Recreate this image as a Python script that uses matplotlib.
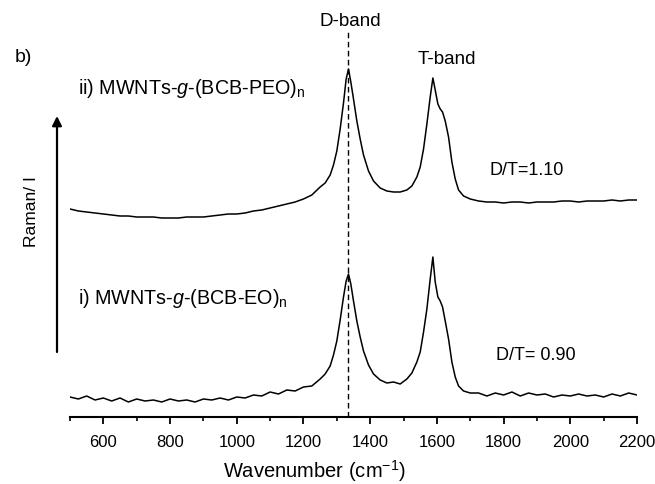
import numpy as np
import matplotlib
matplotlib.use("Agg")
import matplotlib.pyplot as plt

plt.rcParams['font.family'] = ['Liberation Sans', 'DejaVu Sans']
plt.rcParams['mathtext.fontset'] = 'custom'
plt.rcParams['mathtext.rm'] = 'Liberation Sans'
plt.rcParams['mathtext.it'] = 'Liberation Sans:italic'

# wavenumber grid (cm-1)
wn = [500, 525, 550, 575, 600, 625, 650, 675, 700, 725, 750, 775, 800, 825, 850,
      875, 900, 925, 950, 975, 1000, 1025, 1050, 1075, 1100, 1125, 1150, 1175,
      1200, 1225, 1250,
      1265, 1280, 1290, 1300, 1310, 1320, 1328, 1335, 1342, 1350, 1360, 1370,
      1380, 1395, 1410, 1430, 1450, 1470, 1490, 1510, 1525, 1540, 1550, 1560,
      1570, 1580, 1588, 1595, 1603, 1610, 1617, 1625, 1635, 1645, 1655, 1665,
      1680, 1700,
      1725, 1750, 1775, 1800, 1825, 1850, 1875, 1900, 1925, 1950, 1975, 2000,
      2025, 2050, 2075, 2100, 2125, 2150, 2175, 2200]

# ii) MWNTs-g-(BCB-PEO)n  (offset trace, arbitrary units)
peo = [208, 206, 205, 204, 203, 202, 201, 201, 200, 200, 200, 199, 199, 199, 200,
       200, 200, 201, 202, 203, 203, 204, 206, 207, 209, 211, 213, 215,
       218, 222, 230,
       234, 242, 252, 266, 288, 314, 338, 348, 335, 318, 296, 278,
       262, 246, 236, 229, 226, 225, 225, 227, 231, 240, 250, 268,
       293, 320, 339, 327, 313, 308, 305, 296, 280, 255, 238, 227,
       221, 218,
       216, 215, 215, 214, 215, 215, 214, 215, 215, 215, 216, 216,
       215, 216, 216, 216, 217, 216, 217, 217]

# i) MWNTs-g-(BCB-EO)n
eo = [20, 18, 21, 17, 19, 16, 19, 15, 18, 16, 17, 15, 18, 16, 17,
      15, 18, 17, 19, 17, 20, 19, 22, 21, 25, 23, 27, 26,
      30, 31, 38,
      43, 51, 62, 76, 97, 120, 136, 143, 133, 116, 96, 80,
      66, 52, 43, 37, 34, 35, 33, 38, 44, 55, 65, 85,
      108, 138, 160, 135, 120, 116, 110, 96, 78, 55, 40, 31,
      26, 24,
      24, 21, 24, 22, 25, 21, 24, 22, 23, 20, 22, 21,
      23, 21, 22, 20, 23, 21, 24, 22]

d_band = 1335
xticks = [600, 800, 1000, 1200, 1400, 1600, 1800, 2000, 2200]

fig = plt.figure(figsize=(6.55, 4.85), dpi=100)
ax = fig.add_axes([70/655, 1-418/485, 567/655, 388/485])

ax.plot(wn, peo, color='k', lw=1.1)
ax.plot(wn, eo, color='k', lw=1.1)
ax.axvline(d_band, color='k', lw=1.0, ls=(0, (4, 2.5)))

ax.set_xlim(500, 2200)
ax.set_ylim(0, 388)
for s in ['left', 'top', 'right']:
    ax.spines[s].set_visible(False)
ax.spines['bottom'].set_linewidth(1.5)
ax.set_yticks([])
ax.set_xticks(xticks)
ax.set_xticks(np.arange(500, 2201, 100), minor=True)
ax.tick_params(axis='x', which='major', length=5, width=1.3, labelsize=12, pad=7)
ax.tick_params(axis='x', which='minor', length=3, width=1.2)

ax.text(1340, 396, "D-band", fontsize=13.5, ha='center', va='center')
ax.text(1630, 358, "T-band", fontsize=13.5, ha='center', va='center')
ax.text(1870, 247, "D/T=1.10", fontsize=13, ha='center', va='center')
ax.text(1897, 63, "D/T= 0.90", fontsize=13, ha='center', va='center')
ax.text(524, 329, r"ii) MWNTs-$g$-(BCB-PEO)$_\mathregular{n}$", fontsize=14.2,
        ha='left', va='center')
ax.text(524, 120, r"i) MWNTs-$g$-(BCB-EO)$_\mathregular{n}$", fontsize=14.2,
        ha='left', va='center')

fig.text(23/655, 1-57/485, "b)", fontsize=14, ha='center', va='center')
fig.text(31/655, 1-212/485, "Raman/ I", fontsize=12.5, rotation=90,
         ha='center', va='center')
fig.text(314/655, 1-471/485, r"Wavenumber (cm$^{\mathregular{-1}}$)", fontsize=14.5,
         ha='center', va='center')
ax.annotate('', xy=(57/655, 1-117/485), xytext=(57/655, 1-353/485),
            xycoords='figure fraction', textcoords='figure fraction',
            arrowprops=dict(arrowstyle='-|>', lw=1.6, color='k',
                            mutation_scale=14, shrinkA=0, shrinkB=0))

fig.savefig("out.png", dpi=100)
